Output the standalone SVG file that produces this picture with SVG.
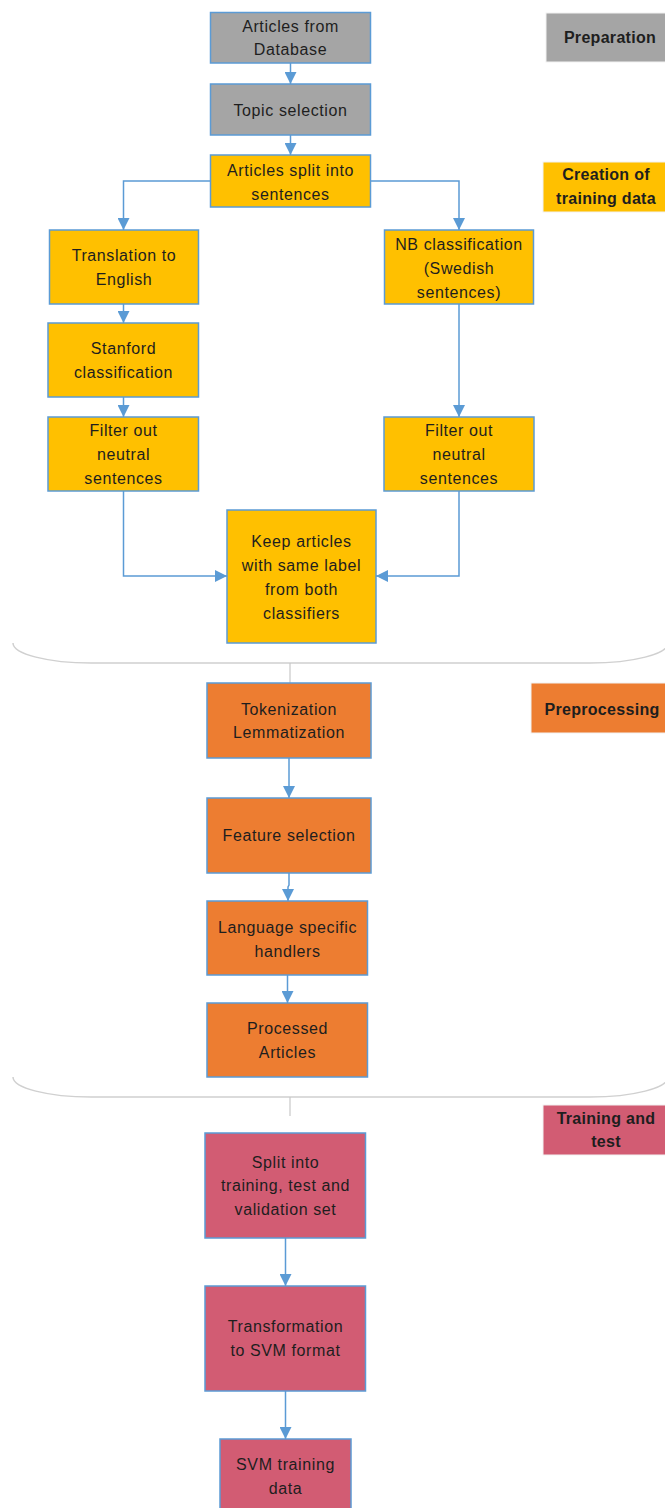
<svg xmlns="http://www.w3.org/2000/svg" width="665" height="1508" viewBox="0 0 665 1508">
<style>
  .box{stroke:#5B9BD5;stroke-width:1.5}
  .gray{fill:#A5A5A5}
  .yel{fill:#FFC000}
  .org{fill:#ED7D31}
  .red{fill:#D25C73}
  .lbl{stroke:#F2F2F2;stroke-width:1}
  text{font-family:"Liberation Sans",Arial,sans-serif;font-size:16px;letter-spacing:0.6px;fill:#1E1E1E;text-anchor:middle;dominant-baseline:central}
  .b{font-weight:bold;font-size:16px;letter-spacing:0.3px}
  .con{fill:none;stroke:#5B9BD5;stroke-width:1.5}
  .lane{fill:none;stroke:#D0D0D0;stroke-width:1.5}
  .sep{fill:none;stroke:#C8C8C8;stroke-width:1.2}
</style>
<defs>
  <marker id="arr" viewBox="0 0 10 10" refX="10" refY="5" markerUnits="userSpaceOnUse" markerWidth="12" markerHeight="12" orient="auto">
    <path d="M0,0 L10,5 L0,10 z" fill="#5B9BD5"/>
  </marker>
</defs>
<rect width="665" height="1508" fill="#FFFFFF"/>

<g id="lanes">
  <path class="lane" d="M13,643 A78,20 0 0 0 91,663 L590,663 A78,20 0 0 0 668,643"/>
  <path class="lane" d="M13,1077 A78,20 0 0 0 91,1097 L590,1097 A78,20 0 0 0 668,1077"/>
  <line class="sep" x1="290" y1="663" x2="290" y2="683"/>
  <line class="sep" x1="290" y1="1097" x2="290" y2="1116"/>
</g>

<g id="connectors">
  <line class="con" x1="290.5" y1="63" x2="290.5" y2="84" marker-end="url(#arr)"/>
  <line class="con" x1="290.5" y1="135" x2="290.5" y2="155" marker-end="url(#arr)"/>
  <polyline class="con" points="210,181 123.5,181 123.5,230" marker-end="url(#arr)"/>
  <polyline class="con" points="371,181 459,181 459,230" marker-end="url(#arr)"/>
  <line class="con" x1="123.5" y1="304" x2="123.5" y2="323" marker-end="url(#arr)"/>
  <line class="con" x1="123.5" y1="397" x2="123.5" y2="417" marker-end="url(#arr)"/>
  <line class="con" x1="459" y1="304" x2="459" y2="417" marker-end="url(#arr)"/>
  <polyline class="con" points="123.5,491 123.5,576 227,576" marker-end="url(#arr)"/>
  <polyline class="con" points="459,491 459,576 376,576" marker-end="url(#arr)"/>
  <line class="con" x1="289" y1="758" x2="289" y2="798" marker-end="url(#arr)"/>
  <polyline class="con" points="289,873 289,885 288,887 288,901" marker-end="url(#arr)"/>
  <line class="con" x1="287.5" y1="975" x2="287.5" y2="1003" marker-end="url(#arr)"/>
  <line class="con" x1="285.5" y1="1238" x2="285.5" y2="1286" marker-end="url(#arr)"/>
  <line class="con" x1="285.5" y1="1391" x2="285.5" y2="1439" marker-end="url(#arr)"/>
</g>

<g id="n-articles-db">
  <rect class="box gray" x="210.5" y="12.5" width="160" height="50.5"/>
  <text x="290.5" y="26">Articles from</text>
  <text x="290.5" y="49">Database</text>
</g>
<g id="n-topic">
  <rect class="box gray" x="210.5" y="84" width="160" height="51"/>
  <text x="290.5" y="110">Topic selection</text>
</g>
<g id="n-split-sentences">
  <rect class="box yel" x="210.5" y="155" width="160" height="52"/>
  <text x="290.5" y="170">Articles split into</text>
  <text x="290.5" y="194">sentences</text>
</g>
<g id="n-translation">
  <rect class="box yel" x="49.5" y="230" width="149" height="74"/>
  <text x="124" y="255">Translation to</text>
  <text x="124" y="279">English</text>
</g>
<g id="n-nb">
  <rect class="box yel" x="384.5" y="230" width="149" height="74"/>
  <text x="459" y="244">NB classification</text>
  <text x="459" y="268">(Swedish</text>
  <text x="459" y="292">sentences)</text>
</g>
<g id="n-stanford">
  <rect class="box yel" x="48" y="323" width="150.5" height="74"/>
  <text x="123.5" y="348">Stanford</text>
  <text x="123.5" y="372">classification</text>
</g>
<g id="n-filter-left">
  <rect class="box yel" x="48" y="417" width="150.5" height="74"/>
  <text x="123.5" y="430">Filter out</text>
  <text x="123.5" y="454">neutral</text>
  <text x="123.5" y="478">sentences</text>
</g>
<g id="n-filter-right">
  <rect class="box yel" x="384" y="417" width="150" height="74"/>
  <text x="459" y="430">Filter out</text>
  <text x="459" y="454">neutral</text>
  <text x="459" y="478">sentences</text>
</g>
<g id="n-keep">
  <rect class="box yel" x="227" y="510" width="149" height="133"/>
  <text x="301.5" y="541">Keep articles</text>
  <text x="301.5" y="565">with same label</text>
  <text x="301.5" y="589">from both</text>
  <text x="301.5" y="613">classifiers</text>
</g>
<g id="n-tokenization">
  <rect class="box org" x="207" y="683" width="164" height="75"/>
  <text x="289" y="709">Tokenization</text>
  <text x="289" y="732">Lemmatization</text>
</g>
<g id="n-feature">
  <rect class="box org" x="207" y="798" width="164" height="75"/>
  <text x="289" y="835">Feature selection</text>
</g>
<g id="n-language">
  <rect class="box org" x="207" y="901" width="160.5" height="74"/>
  <text x="287.5" y="927">Language specific</text>
  <text x="287.5" y="951">handlers</text>
</g>
<g id="n-processed">
  <rect class="box org" x="207" y="1003" width="160.5" height="74"/>
  <text x="287.5" y="1028">Processed</text>
  <text x="287.5" y="1052">Articles</text>
</g>
<g id="n-split-sets">
  <rect class="box red" x="205" y="1133" width="160.5" height="105"/>
  <text x="285.5" y="1162">Split into</text>
  <text x="285.5" y="1185">training, test and</text>
  <text x="285.5" y="1209">validation set</text>
</g>
<g id="n-transformation">
  <rect class="box red" x="205" y="1286" width="160.5" height="105"/>
  <text x="285.5" y="1326">Transformation</text>
  <text x="285.5" y="1350">to SVM format</text>
</g>
<g id="n-svm-data">
  <rect class="box red" x="220" y="1439" width="131" height="75"/>
  <text x="285.5" y="1464">SVM training</text>
  <text x="285.5" y="1488">data</text>
</g>

<g id="l-preparation">
  <rect class="lbl gray" x="546" y="13" width="130" height="49"/>
  <text class="b" x="610" y="37">Preparation</text>
</g>
<g id="l-creation">
  <rect class="lbl yel" x="543" y="162" width="133" height="50"/>
  <text class="b" x="606" y="174">Creation of</text>
  <text class="b" x="606" y="198">training data</text>
</g>
<g id="l-preprocessing">
  <rect class="lbl org" x="531" y="683" width="145" height="50"/>
  <text class="b" x="602" y="709">Preprocessing</text>
</g>
<g id="l-training">
  <rect class="lbl red" x="543" y="1105" width="133" height="50"/>
  <text class="b" x="606" y="1118">Training and</text>
  <text class="b" x="606" y="1141">test</text>
</g>
</svg>
